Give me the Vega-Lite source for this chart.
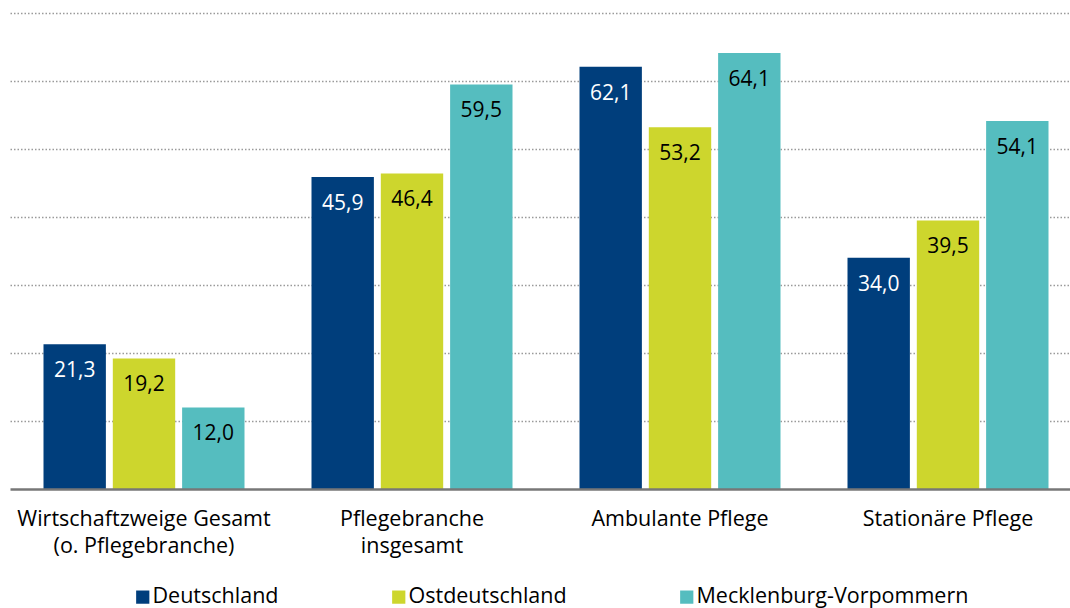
{
  "$schema": "https://vega.github.io/schema/vega-lite/v6.json",
  "width": 1060,
  "height": 476,
  "autosize": {"type": "none"},
  "padding": {"left": 10, "top": 13, "right": 0, "bottom": 119},
  "config": {
    "view": {"stroke": null},
    "font": "Open Sans",
    "locale": {"number": {"decimal": ",", "thousands": ".", "grouping": [3], "currency": ["", " €"]}}
  },
  "data": {
    "values": [
      {"kat": "Wirtschaftzweige Gesamt|(o. Pflegebranche)", "reg": "Deutschland", "wert": 21.3},
      {"kat": "Wirtschaftzweige Gesamt|(o. Pflegebranche)", "reg": "Ostdeutschland", "wert": 19.2},
      {"kat": "Wirtschaftzweige Gesamt|(o. Pflegebranche)", "reg": "Mecklenburg-Vorpommern", "wert": 12.0},
      {"kat": "Pflegebranche|insgesamt", "reg": "Deutschland", "wert": 45.9},
      {"kat": "Pflegebranche|insgesamt", "reg": "Ostdeutschland", "wert": 46.4},
      {"kat": "Pflegebranche|insgesamt", "reg": "Mecklenburg-Vorpommern", "wert": 59.5},
      {"kat": "Ambulante Pflege", "reg": "Deutschland", "wert": 62.1},
      {"kat": "Ambulante Pflege", "reg": "Ostdeutschland", "wert": 53.2},
      {"kat": "Ambulante Pflege", "reg": "Mecklenburg-Vorpommern", "wert": 64.1},
      {"kat": "Stationäre Pflege", "reg": "Deutschland", "wert": 34.0},
      {"kat": "Stationäre Pflege", "reg": "Ostdeutschland", "wert": 39.5},
      {"kat": "Stationäre Pflege", "reg": "Mecklenburg-Vorpommern", "wert": 54.1}
    ]
  },
  "encoding": {
    "x": {
      "field": "kat",
      "type": "nominal",
      "sort": ["Wirtschaftzweige Gesamt|(o. Pflegebranche)", "Pflegebranche|insgesamt", "Ambulante Pflege", "Stationäre Pflege"],
      "scale": {"range": [0, 1072], "paddingInner": 0.25, "paddingOuter": 0.125},
      "axis": {
        "title": null,
        "labelAngle": 0,
        "labelExpr": "split(datum.value, '|')",
        "labelFontSize": 21.5,
        "labelColor": "#000000",
        "labelPadding": 19,
        "labelLineHeight": 27,
        "labelLimit": 0,
        "ticks": false,
        "domain": true,
        "domainColor": "#777777",
        "domainWidth": 2.5,
        "zindex": 1
      }
    },
    "xOffset": {
      "field": "reg",
      "type": "nominal",
      "sort": ["Deutschland", "Ostdeutschland", "Mecklenburg-Vorpommern"],
      "scale": {"paddingInner": 0.1, "paddingOuter": 0}
    },
    "y": {
      "field": "wert",
      "type": "quantitative",
      "scale": {"domain": [0, 70]},
      "axis": {
        "title": null,
        "labels": false,
        "ticks": false,
        "domain": false,
        "grid": true,
        "values": [10, 20, 30, 40, 50, 60, 70],
        "gridColor": "#9a9a9a",
        "gridDash": [1.5, 2],
        "gridWidth": 1.3
      }
    }
  },
  "layer": [
    {
      "mark": {"type": "bar"},
      "encoding": {
        "color": {
          "field": "reg",
          "type": "nominal",
          "sort": ["Deutschland", "Ostdeutschland", "Mecklenburg-Vorpommern"],
          "scale": {
            "domain": ["Deutschland", "Ostdeutschland", "Mecklenburg-Vorpommern"],
            "range": ["#003e7c", "#cdd62d", "#55bdbf"]
          },
          "legend": {
            "title": null,
            "orient": "none",
            "legendX": 122,
            "legendY": 573,
            "direction": "horizontal",
            "symbolType": "square",
            "symbolSize": 175,
            "symbolStrokeWidth": 0,
            "labelFontSize": 21.5,
            "labelColor": "#000000",
            "labelOffset": -1,
            "labelLimit": 0,
            "columnPadding": 109
          }
        }
      }
    },
    {
      "mark": {"type": "text", "baseline": "middle", "dy": 27, "fontSize": 21},
      "encoding": {
        "text": {"field": "wert", "type": "quantitative", "format": ".1f"},
        "color": {
          "condition": {"test": "datum.reg == 'Deutschland'", "value": "#ffffff"},
          "value": "#000000"
        }
      }
    }
  ]
}
